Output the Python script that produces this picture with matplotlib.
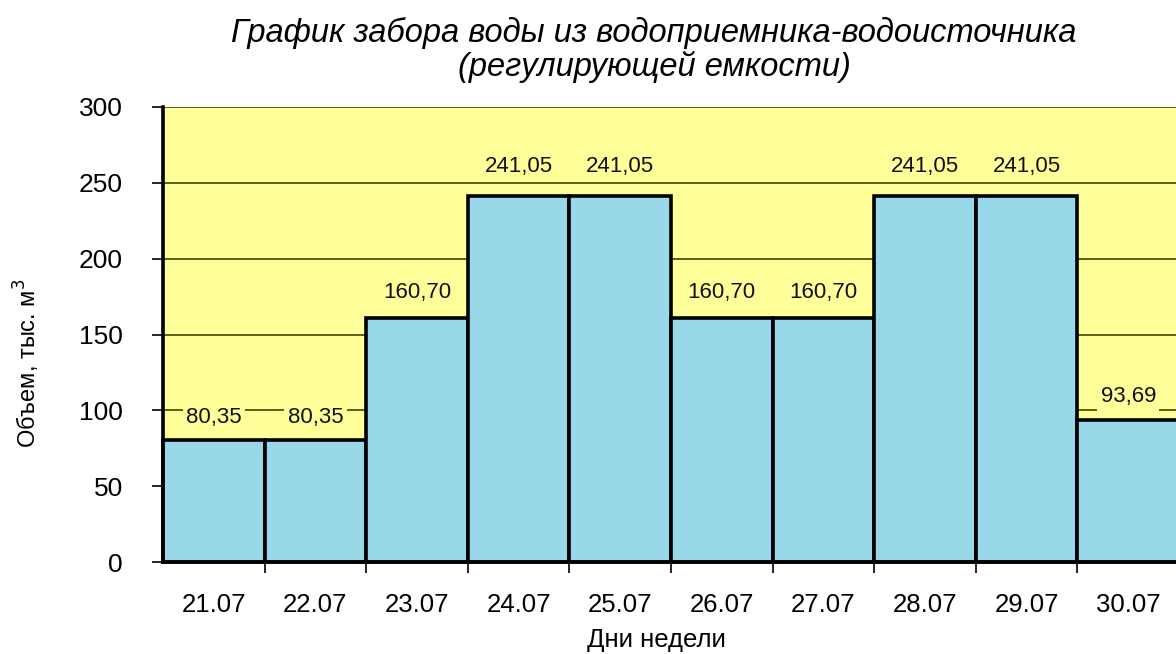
import matplotlib
matplotlib.use("Agg")
import matplotlib.pyplot as plt
import numpy as np

plt.rcParams['font.family'] = ['Liberation Sans', 'DejaVu Sans']

days = ["21.07", "22.07", "23.07", "24.07", "25.07", "26.07", "27.07", "28.07", "29.07", "30.07"]
volumes = [80.35, 80.35, 160.70, 241.05, 241.05, 160.70, 160.70, 241.05, 241.05, 93.69]
labels = ["80,35", "80,35", "160,70", "241,05", "241,05", "160,70", "160,70", "241,05", "241,05", "93,69"]
yticks = [0, 50, 100, 150, 200, 250, 300]

W, H = 1176, 654
fig = plt.figure(figsize=(W / 100, H / 100), dpi=100)
left, right, top, bottom = 163, 1179, 107, 562
ax = fig.add_axes([left / W, 1 - bottom / H, (right - left) / W, (bottom - top) / H])
ax.set_facecolor('#FFFF99')

x = np.arange(len(days))
ax.bar(x, volumes, width=1.0, color='#99D8E8', edgecolor='black', linewidth=2.6, zorder=3, clip_on=False)

for xi, v, lab in zip(x, volumes, labels):
    off = 19 + 0.045 * v
    ax.annotate(lab, (xi, v), xytext=(0, off), textcoords='offset pixels', ha='center', va='center',
                fontsize=16, color='#111111', zorder=4,
                bbox=dict(boxstyle='square,pad=0.15', facecolor='#FFFF99', edgecolor='none'))

ax.set_xlim(-0.5, len(days) - 0.5)
ax.set_ylim(0, 300)
ax.set_yticks(yticks)
ax.set_yticklabels([str(t) for t in yticks], fontsize=19)
ax.yaxis.grid(True, color='#333300', linewidth=1.1, zorder=0)
ax.set_axisbelow(True)

ax.set_xticks(x)
ax.set_xticklabels(days, fontsize=18.5)
ax.set_xticks(np.arange(len(days)) + 0.5, minor=True)
ax.tick_params(axis='x', which='major', length=0, pad=22)
ax.tick_params(axis='x', which='minor', length=8, width=1.2, direction='out')
ax.tick_params(axis='y', length=8, width=1.2, direction='out', pad=21)

for s in ['top', 'right']:
    ax.spines[s].set_visible(False)
for s in ['left', 'bottom']:
    ax.spines[s].set_linewidth(2.6)
    ax.spines[s].set_zorder(5)

ax.set_xlabel("Дни недели", fontsize=18.5)
ax.xaxis.set_label_coords((656 - left) / (right - left), -(640 - bottom) / (bottom - top))
ax.xaxis.label.set_va('center')
ax.set_ylabel("Объем, тыс. м$^3$", fontsize=17)
ax.yaxis.set_label_coords((27 - left) / (right - left), (bottom - 363) / (bottom - top))
ax.yaxis.label.set_va('center')

fig.text(654 / W, 1 - 50 / H, "График забора воды из водоприемника-водоисточника\n(регулирующей емкости)",
         ha='center', va='center', fontsize=23.5, style='italic', linespacing=1.1)

fig.savefig("out.png", dpi=100)
